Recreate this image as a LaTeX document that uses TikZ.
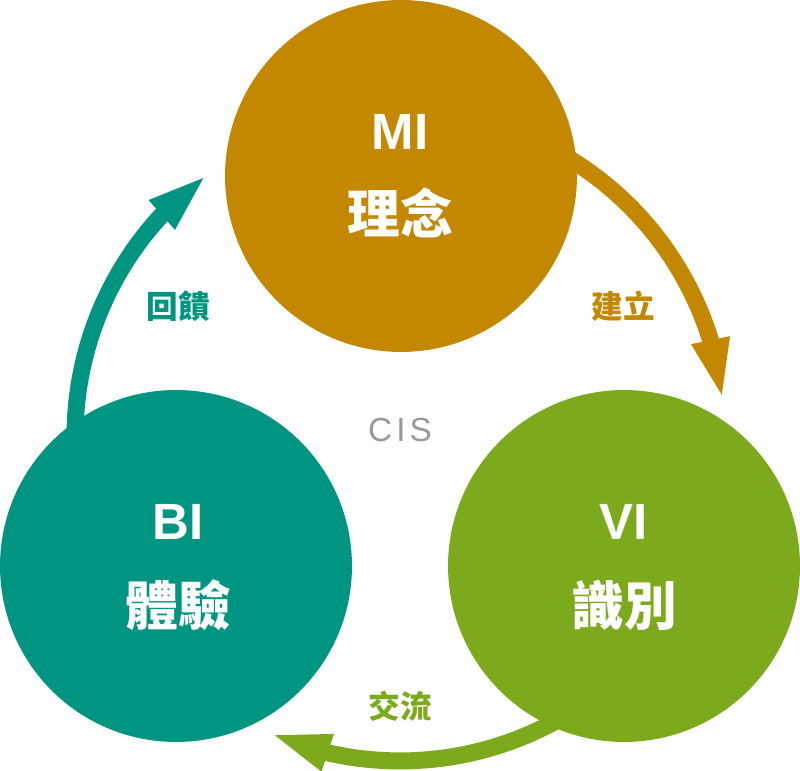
\documentclass[tikz,border=0pt]{standalone}
\usepackage{fontspec}
\setmainfont{Noto Sans CJK TC}
\newfontfamily\latinfont{Liberation Sans}
\usepackage{xcolor}
\usepackage{tikz}
\usetikzlibrary{arrows.meta,bending}

\definecolor{miorange}{RGB}{196,136,0}
\definecolor{biteal}{RGB}{0,149,128}
\definecolor{vigreen}{RGB}{124,170,28}
\definecolor{cisgray}{RGB}{153,153,153}

\begin{document}
\begin{tikzpicture}[x=0.02cm,y=0.02cm,
    ball/.style={circle,inner sep=0pt,minimum size=7.04cm},
    title/.style={text=white,font=\latinfont\bfseries\fontsize{29}{31}\selectfont},
    cjk/.style={text=white,font=\bfseries\fontsize{30}{32}\selectfont},
    tag/.style={font=\bfseries\fontsize{18}{20}\selectfont},
    loop/.style={line width=0.34cm,-{Triangle[length=1.24cm,width=0.68cm]}}]

    \useasboundingbox (0,0) rectangle (800,770);

    % The cycle arrows
    \coordinate (hub) at (400,334);
    \coordinate (mi out) at ([shift={(60:6.5cm)}]hub);
    \coordinate (bi out) at ([shift={(180:6.5cm)}]hub);
    \coordinate (vi out) at ([shift={(300:6.5cm)}]hub);
    \draw[loop,miorange] (mi out) arc[start angle=60,end angle=6.2,radius=6.5cm];
    \draw[loop,biteal] (bi out) arc[start angle=180,end angle=126.2,radius=6.5cm];
    \draw[loop,vigreen] (vi out) arc[start angle=300,end angle=246.2,radius=6.5cm];

    % The circles
    \node [ball,fill=miorange] at (401,594) (mi) {};
    \node [ball,fill=biteal] at (176,204) (bi) {};
    \node [ball,fill=vigreen] at (624,204) (vi) {};

    % Circle texts
    \node [title] at (400,638) (mi en) {MI};
    \node [cjk] at (400,557) (mi zh) {理念};
    \node [title] at (178,248) (bi en) {BI};
    \node [cjk] at (178,165) (bi zh) {體驗};
    \node [title] at (624,248) (vi en) {VI};
    \node [cjk] at (624,165) (vi zh) {識別};

    % Arrow labels
    \node [tag,text=miorange] at (623,464) (build) {建立};
    \node [tag,text=biteal] at (178,464) (feedback) {回饋};
    \node [tag,text=vigreen] at (400,64) (exchange) {交流};
    \node [text=cisgray,font=\latinfont\fontsize{19}{21}\selectfont\addfontfeature{LetterSpace=12}] at (400,340) (cis) {CIS};

\end{tikzpicture}
\end{document}
